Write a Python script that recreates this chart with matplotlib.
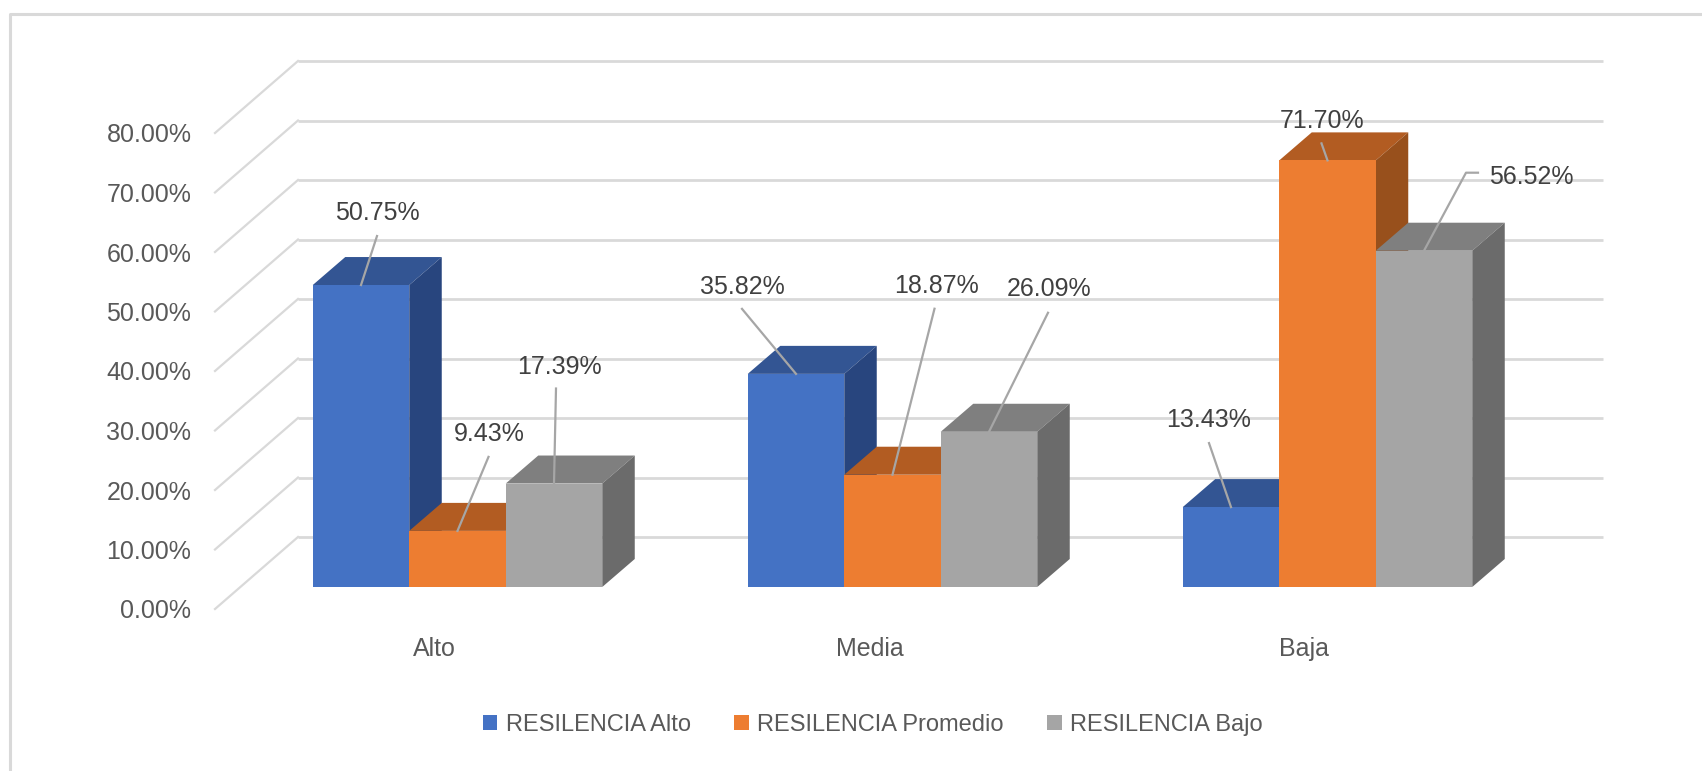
#!/usr/bin/env python3
import matplotlib
matplotlib.use("Agg")
import matplotlib.pyplot as plt
from matplotlib.lines import Line2D
from matplotlib.patches import Patch, Polygon
from matplotlib.transforms import Affine2D, IdentityTransform

categories = ["Alto", "Media", "Baja"]
series_names = ["RESILENCIA Alto", "RESILENCIA Promedio", "RESILENCIA Bajo"]
res_alto = [50.75, 35.82, 13.43]
res_promedio = [9.43, 18.87, 71.70]
res_bajo = [17.39, 26.09, 56.52]
yticks = [0, 10, 20, 30, 40, 50, 60, 70, 80]

front_colors = ["#4472C4", "#ED7D31", "#A5A5A5"]
top_colors = ["#335593", "#B25C22", "#7F7F7F"]
side_colors = ["#28457E", "#98501C", "#6B6B6B"]
grid_color = "#D9D9D9"
text_color = "#595959"
label_color = "#404040"
leader_color = "#A6A6A6"

# label centre and leader points in pixels from the bar's top centre, one row per series
label_offsets = [
    [(16, 72), (-54, 87), (-22, 87)],
    [(32, 97), (44, 189), (-5, 39)],
    [(5, 117), (60, 143), (107, 74)],
]
leader_offsets = [
    [[(16, 49)], [(-54, 65)], [(-22, 64)]],
    [[(31, 74)], [(42, 166)], [(-6, 17)]],
    [[(2, 95)], [(59, 119)], [(42, 78), (54, 78)]],
]

W, H = 1702, 771
plt.rcParams["font.family"] = ["Liberation Sans", "DejaVu Sans"]

fig = plt.figure(figsize=(W / 100, H / 100), dpi=100)
ax = fig.add_axes([215 / W, (H - 609) / H, 1305 / W, 476 / H])
ax.set_xlim(0, 3)
ax.set_ylim(0, 80)
for s in ax.spines.values():
    s.set_visible(False)
ax.patch.set_alpha(0)

ax.set_yticks(yticks)
ax.set_yticklabels([f"{v:.2f}%" for v in yticks])
ax.set_xticks([0.505, 1.505, 2.503])
ax.set_xticklabels(categories)
ax.tick_params(axis="y", length=0, pad=17, labelsize=18, labelcolor=text_color)
ax.tick_params(axis="x", length=0, pad=20, labelsize=18, labelcolor=text_color)

# planes of the fake 3D box, offsets in pixels
back = ax.transData + Affine2D().translate(83, 72)
front = ax.transData + Affine2D().translate(25, 22)
screen = IdentityTransform()

for v in yticks:
    x0, y0 = ax.transData.transform((0, v))
    ax.plot([x0, x0 + 83], [y0, y0 + 72], transform=screen, color=grid_color, lw=1.6, zorder=1, clip_on=False)
    ax.plot([0, 3], [v, v], transform=back, color=grid_color, lw=2, zorder=1, clip_on=False, solid_capstyle="butt")

bar_w = 96.5 / 435
depth_x, depth_y = 32.5, 28
values = [res_alto, res_promedio, res_bajo]

for c in range(len(categories)):
    start = c + 0.5 - 1.5 * bar_w
    for s in range(3):
        v = values[s][c]
        x0 = start + s * bar_w
        x1 = x0 + bar_w
        (px0, py0), (px1, py1) = front.transform([(x0, 0), (x1, v)])
        ax.add_patch(Polygon([(px0, py1), (px1, py1), (px1 + depth_x, py1 + depth_y), (px0 + depth_x, py1 + depth_y)],
                             transform=screen, facecolor=top_colors[s], edgecolor="none", zorder=3 + s, clip_on=False))
        ax.add_patch(Polygon([(px1, py0), (px1 + depth_x, py0 + depth_y), (px1 + depth_x, py1 + depth_y), (px1, py1)],
                             transform=screen, facecolor=side_colors[s], edgecolor="none", zorder=3 + s, clip_on=False))
        ax.bar(x0, v, width=bar_w, align="edge", color=front_colors[s], transform=front, zorder=3 + s, clip_on=False)

# data labels and leader lines go on top of all bars
for c in range(len(categories)):
    start = c + 0.5 - 1.5 * bar_w
    for s in range(3):
        v = values[s][c]
        px, py = front.transform((start + (s + 0.5) * bar_w, v))
        lab = label_offsets[s][c]
        lead = leader_offsets[s][c]
        xs = [px] + [px + d[0] for d in lead]
        ys = [py] + [py + d[1] for d in lead]
        ax.plot(xs, ys, transform=screen, color=leader_color, lw=1.6, zorder=9, clip_on=False)
        ax.text(px + lab[0], py + lab[1], f"{v:.2f}%", transform=screen, ha="center", va="center",
                fontsize=18, color=label_color, zorder=10)

handles = [Patch(facecolor=col, edgecolor="none") for col in front_colors]
ax.legend(handles, series_names, loc="center", bbox_to_anchor=(873 / W, (H - 725) / H),
          bbox_transform=fig.transFigure, ncol=3, frameon=False, fontsize=17, labelcolor=text_color,
          handlelength=0.6, handleheight=0.6, handletextpad=0.37, columnspacing=1.84, borderpad=0, borderaxespad=0)

# outer frame of the pasted chart: only top and left are visible
fig.add_artist(Line2D([10 / W, 10 / W, 1], [0, (H - 14) / H, (H - 14) / H], color=grid_color, lw=2.2))

fig.savefig("out.png", dpi=100)
